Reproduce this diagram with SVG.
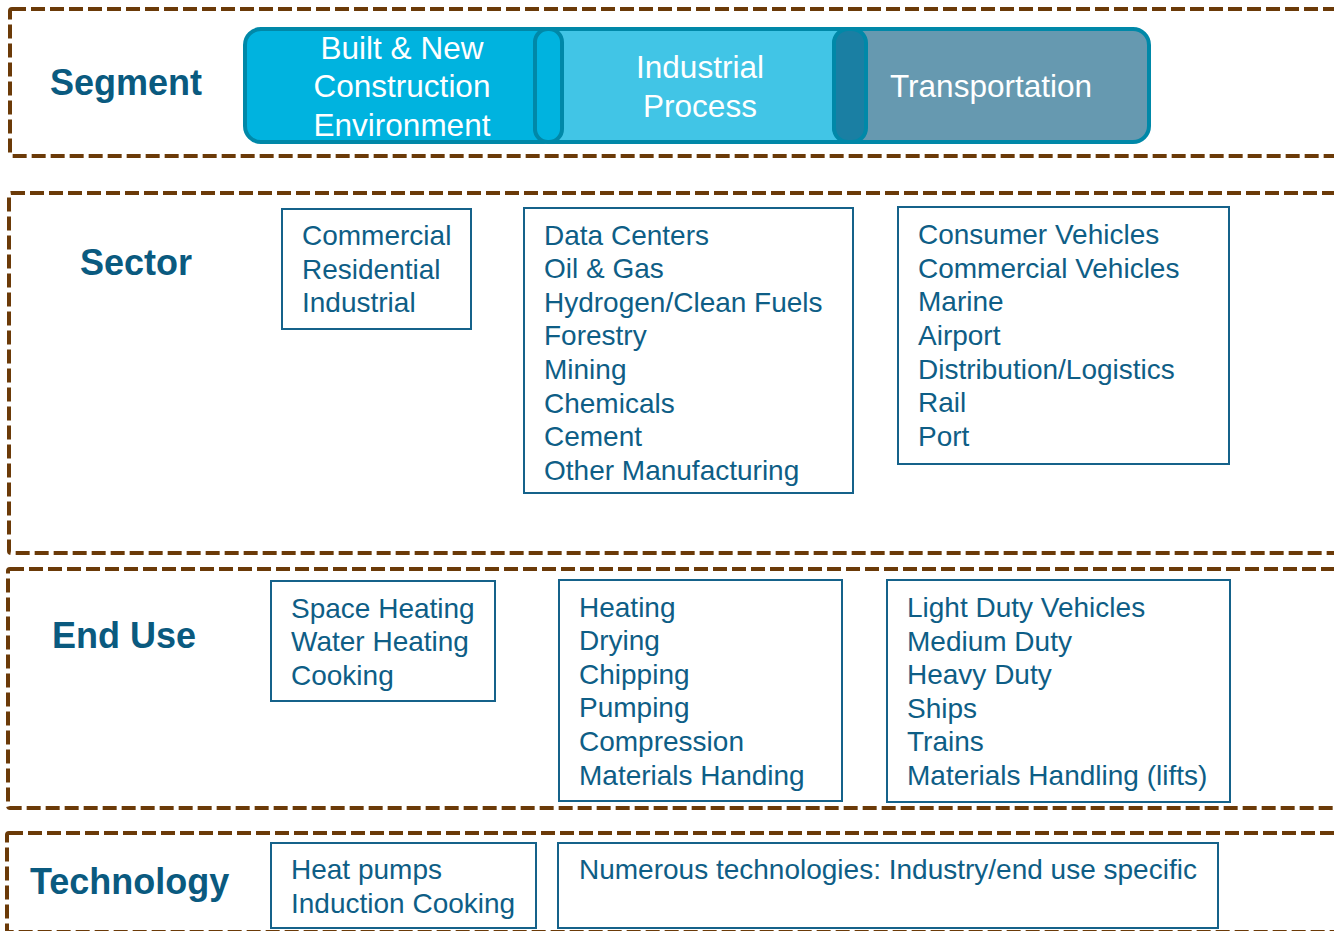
<svg xmlns="http://www.w3.org/2000/svg" width="1334" height="931" viewBox="0 0 1334 931">
  <style>
    .band { fill: none; stroke: #6B3A08; stroke-width: 4; stroke-dasharray: 14 5; }
    .head { font-family: "Liberation Sans", Arial, sans-serif; font-weight: bold; font-size: 36px; fill: #0A5A7F; }
    .box { fill: #FFFFFF; stroke: #15628A; stroke-width: 2; }
    .item { font-family: "Liberation Sans", Arial, sans-serif; font-size: 28px; fill: #0E5E86; }
    .seg { stroke: #0088A8; stroke-width: 4; }
    .segtxt { font-family: "Liberation Sans", Arial, sans-serif; font-size: 31.5px; fill: #FFFFFF; text-anchor: middle; }
  </style>
  <rect width="1334" height="931" fill="#FFFFFF"/>

  <!-- dashed level bands, open to the right edge -->
  <g id="bands">
    <rect class="band" x="10" y="9" width="1400" height="147" rx="2"/>
    <rect class="band" x="9" y="193" width="1400" height="360" rx="2"/>
    <rect class="band" x="8" y="569" width="1400" height="239" rx="2"/>
    <rect class="band" x="7" y="833" width="1400" height="99" rx="2"/>
  </g>

  <!-- Segment level -->
  <g id="segment">
    <text class="head" x="50" y="95">Segment</text>
    <g id="seg-built">
      <rect class="seg" x="245" y="29" width="315" height="113" rx="16" fill="#00B3DF"/>
    </g>
    <g id="seg-industrial">
      <rect class="seg" x="535" y="29" width="330" height="113" rx="16" fill="#41C5E6"/>
      <rect class="seg" x="535" y="29" width="27" height="113" rx="13" fill="#00B3DF"/>
    </g>
    <g id="seg-transport">
      <rect class="seg" x="834" y="29" width="315" height="113" rx="16" fill="#6699B0"/>
      <rect class="seg" x="834" y="29" width="32" height="113" rx="14" fill="#1A7FA3"/>
    </g>
    <text class="segtxt" x="402" y="59">Built &amp; New</text>
    <text class="segtxt" x="402" y="97">Construction</text>
    <text class="segtxt" x="402" y="136">Environment</text>
    <text class="segtxt" x="700" y="78">Industrial</text>
    <text class="segtxt" x="700" y="117">Process</text>
    <text class="segtxt" x="991" y="97">Transportation</text>
  </g>

  <!-- Sector level -->
  <g id="sector">
    <text class="head" x="80" y="275">Sector</text>
    <g id="sector-built">
      <rect class="box" x="282" y="209" width="189" height="120"/>
      <text class="item" x="302" y="245">Commercial</text>
      <text class="item" x="302" y="279">Residential</text>
      <text class="item" x="302" y="312">Industrial</text>
    </g>
    <g id="sector-industrial">
      <rect class="box" x="524" y="208" width="329" height="285"/>
      <text class="item" x="544" y="245">Data Centers</text>
      <text class="item" x="544" y="278">Oil &amp; Gas</text>
      <text class="item" x="544" y="312">Hydrogen/Clean Fuels</text>
      <text class="item" x="544" y="345">Forestry</text>
      <text class="item" x="544" y="379">Mining</text>
      <text class="item" x="544" y="413">Chemicals</text>
      <text class="item" x="544" y="446">Cement</text>
      <text class="item" x="544" y="480">Other Manufacturing</text>
    </g>
    <g id="sector-transport">
      <rect class="box" x="898" y="207" width="331" height="257"/>
      <text class="item" x="918" y="244">Consumer Vehicles</text>
      <text class="item" x="918" y="278">Commercial Vehicles</text>
      <text class="item" x="918" y="311">Marine</text>
      <text class="item" x="918" y="345">Airport</text>
      <text class="item" x="918" y="379">Distribution/Logistics</text>
      <text class="item" x="918" y="412">Rail</text>
      <text class="item" x="918" y="446">Port</text>
    </g>
  </g>

  <!-- End use level -->
  <g id="enduse">
    <text class="head" x="52" y="648">End Use</text>
    <g id="enduse-built">
      <rect class="box" x="271" y="581" width="224" height="120"/>
      <text class="item" x="291" y="618">Space Heating</text>
      <text class="item" x="291" y="651">Water Heating</text>
      <text class="item" x="291" y="685">Cooking</text>
    </g>
    <g id="enduse-industrial">
      <rect class="box" x="559" y="580" width="283" height="221"/>
      <text class="item" x="579" y="617">Heating</text>
      <text class="item" x="579" y="650">Drying</text>
      <text class="item" x="579" y="684">Chipping</text>
      <text class="item" x="579" y="717">Pumping</text>
      <text class="item" x="579" y="751">Compression</text>
      <text class="item" x="579" y="785">Materials Handing</text>
    </g>
    <g id="enduse-transport">
      <rect class="box" x="887" y="580" width="343" height="222"/>
      <text class="item" x="907" y="617">Light Duty Vehicles</text>
      <text class="item" x="907" y="651">Medium Duty</text>
      <text class="item" x="907" y="684">Heavy Duty</text>
      <text class="item" x="907" y="718">Ships</text>
      <text class="item" x="907" y="751">Trains</text>
      <text class="item" x="907" y="785">Materials Handling (lifts)</text>
    </g>
  </g>

  <!-- Technology level -->
  <g id="technology">
    <text class="head" x="30" y="894">Technology</text>
    <g id="tech-built">
      <rect class="box" x="271" y="843" width="265" height="85"/>
      <text class="item" x="291" y="879">Heat pumps</text>
      <text class="item" x="291" y="913">Induction Cooking</text>
    </g>
    <g id="tech-other">
      <rect class="box" x="558" y="843" width="660" height="85"/>
      <text class="item" x="579" y="879">Numerous technologies: Industry/end use specific</text>
    </g>
  </g>
</svg>
